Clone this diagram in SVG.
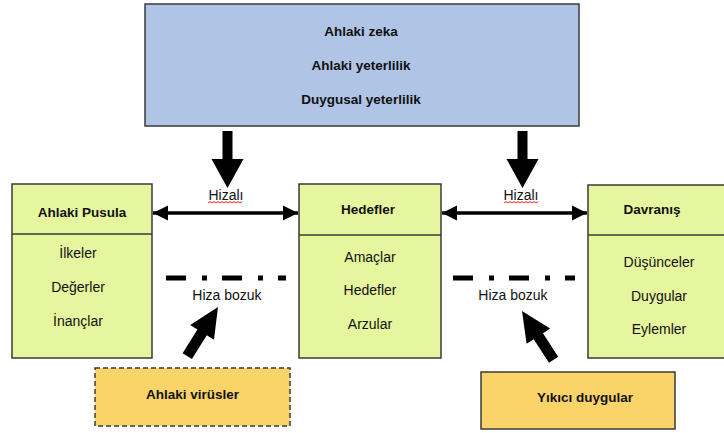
<svg xmlns="http://www.w3.org/2000/svg" width="724" height="433" viewBox="0 0 724 433">
<defs>
<style>
text{font-family:"Liberation Sans",Arial,sans-serif;fill:#111;}
.b{font-weight:bold;font-size:13.5px;}
.r{font-size:14px;}
.g{fill:#E6F69E;stroke:#3a3a3a;stroke-width:1.5;}
.blue{fill:#B0C4E6;stroke:#3a3a3a;stroke-width:1.5;}
.o{fill:#FAD468;stroke:#3a3a3a;stroke-width:1.5;}
.dl{stroke:#000;stroke-width:5;stroke-dasharray:20 16 5 15;fill:none;}
.dbl{stroke:#000;stroke-width:3.5;fill:none;marker-start:url(#ah);marker-end:url(#ah);}
.sq{stroke:#e02020;stroke-width:1;fill:none;}
</style>
<marker id="ah" markerUnits="userSpaceOnUse" markerWidth="16" markerHeight="16" refX="15" refY="7.5" orient="auto-start-reverse" viewBox="0 0 16 15">
<path d="M0,0 L15,7.5 L0,15 Z" fill="#000"/>
</marker>
<path id="bar" d="M0,0 L14,30 L5.5,30 L5.5,58 L-5.5,58 L-5.5,30 L-14,30 Z" fill="#000"/>
<path id="down" d="M0,0 L16,-29 L5,-29 L5,-57 L-5,-57 L-5,-29 L-16,-29 Z" fill="#000"/>
</defs>

<g id="top">
<rect class="blue" x="145" y="4" width="434" height="122"/>
<text class="b" x="361" y="31" text-anchor="middle" dominant-baseline="central">Ahlaki zeka</text>
<text class="b" x="361" y="65" text-anchor="middle" dominant-baseline="central">Ahlaki yeterlilik</text>
<text class="b" x="361" y="99" text-anchor="middle" dominant-baseline="central">Duygusal yeterlilik</text>
</g>

<g id="pusula">
<rect class="g" x="12" y="184" width="140" height="174"/>
<line x1="12" y1="234" x2="152" y2="234" stroke="#3a3a3a" stroke-width="1.5"/>
<text class="b" x="82" y="212" text-anchor="middle" dominant-baseline="central">Ahlaki Pusula</text>
<text class="r" x="78" y="253" text-anchor="middle" dominant-baseline="central">İlkeler</text>
<text class="r" x="78" y="287" text-anchor="middle" dominant-baseline="central">Değerler</text>
<text class="r" x="78" y="321" text-anchor="middle" dominant-baseline="central">İnançlar</text>
</g>

<g id="hedefler">
<rect class="g" x="299" y="184" width="142" height="174"/>
<line x1="299" y1="235" x2="441" y2="235" stroke="#3a3a3a" stroke-width="1.5"/>
<text class="b" x="368" y="209" text-anchor="middle" dominant-baseline="central">Hedefler</text>
<text class="r" x="370" y="257" text-anchor="middle" dominant-baseline="central">Amaçlar</text>
<text class="r" x="370" y="290" text-anchor="middle" dominant-baseline="central">Hedefler</text>
<text class="r" x="370" y="324" text-anchor="middle" dominant-baseline="central">Arzular</text>
</g>

<g id="davranis">
<rect class="g" x="588" y="185" width="145" height="173"/>
<line x1="588" y1="235" x2="733" y2="235" stroke="#3a3a3a" stroke-width="1.5"/>
<text class="b" x="652" y="209" text-anchor="middle" dominant-baseline="central">Davranış</text>
<text class="r" x="659" y="262" text-anchor="middle" dominant-baseline="central">Düşünceler</text>
<text class="r" x="659" y="296" text-anchor="middle" dominant-baseline="central">Duygular</text>
<text class="r" x="659" y="329" text-anchor="middle" dominant-baseline="central">Eylemler</text>
</g>

<g id="virusler">
<rect class="o" x="95" y="368" width="195" height="58" stroke-dasharray="5 3"/>
<text class="b" x="192.5" y="394" text-anchor="middle" dominant-baseline="central">Ahlaki virüsler</text>
</g>

<g id="yikici">
<rect class="o" x="481" y="372" width="194" height="57"/>
<text class="b" x="585" y="397" text-anchor="middle" dominant-baseline="central">Yıkıcı duygular</text>
</g>

<g id="connectors">
<use href="#down" transform="translate(227.5,188)"/>
<use href="#down" transform="translate(522.5,188)"/>
<line class="dbl" x1="153" y1="213" x2="298" y2="213"/>
<line class="dbl" x1="442" y1="213" x2="587" y2="213"/>
<text class="r" x="226" y="200" text-anchor="middle">Hizalı</text>
<path class="sq" d="M208,203 l2,-1.5 l2,1.5 l2,-1.5 l2,1.5 l2,-1.5 l2,1.5 l2,-1.5 l2,1.5 l2,-1.5 l2,1.5 l2,-1.5 l2,1.5 l2,-1.5 l2,1.5 l2,-1.5 l2,1.5 l2,-1.5"/>
<text class="r" x="521" y="200" text-anchor="middle">Hizalı</text>
<path class="sq" d="M504,203 l2,-1.5 l2,1.5 l2,-1.5 l2,1.5 l2,-1.5 l2,1.5 l2,-1.5 l2,1.5 l2,-1.5 l2,1.5 l2,-1.5 l2,1.5 l2,-1.5 l2,1.5 l2,-1.5 l2,1.5 l2,-1.5"/>
<line class="dl" x1="166" y1="278" x2="286" y2="278"/>
<line class="dl" x1="453" y1="278" x2="575" y2="278"/>
<text class="r" x="227" y="295" text-anchor="middle" dominant-baseline="central">Hiza bozuk</text>
<text class="r" x="513" y="295" text-anchor="middle" dominant-baseline="central">Hiza bozuk</text>
<use href="#bar" transform="translate(218,307) rotate(32)"/>
<use href="#bar" transform="translate(522,311) rotate(-33)"/>
</g>
</svg>
